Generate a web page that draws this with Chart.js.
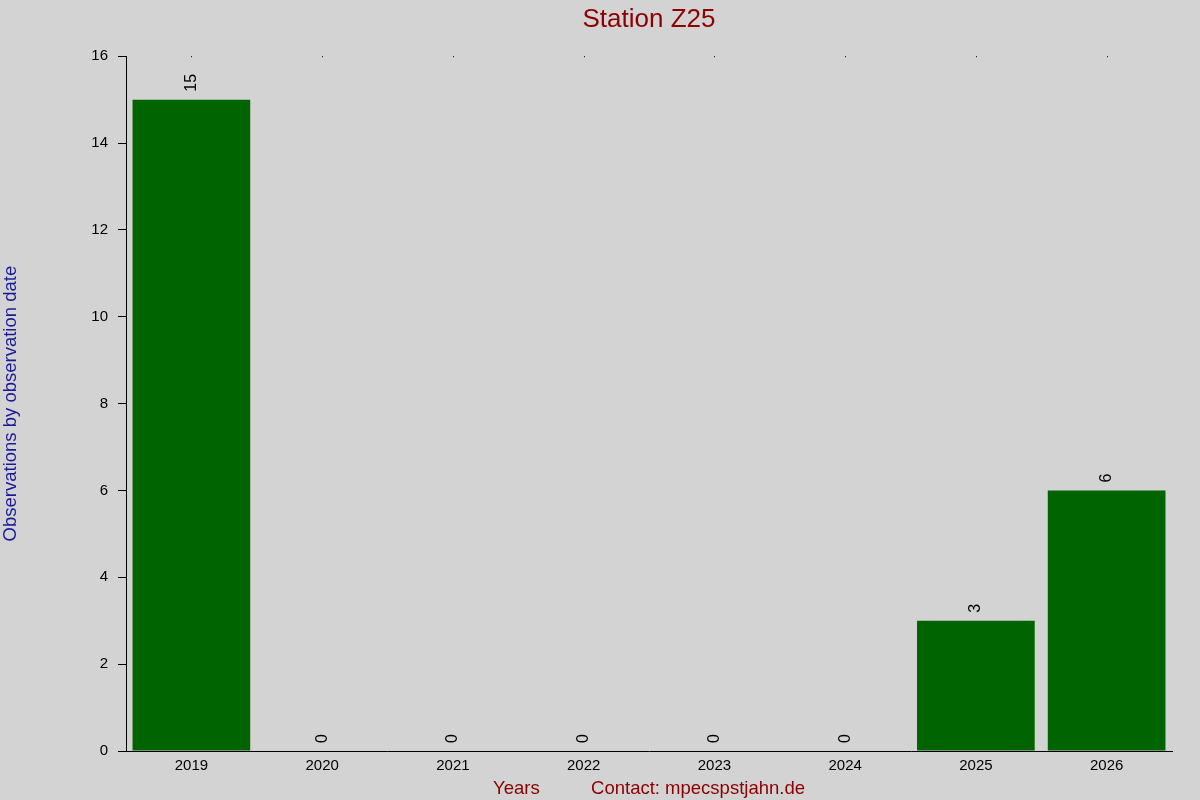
<!DOCTYPE html>
<html lang="en">
<head>
    <meta charset="UTF-8">
    <title>Station Z25</title>
    <script src="https://cdn.jsdelivr.net/npm/chart.js@4"></script>
    <style>
        * {
            margin: 0;
            padding: 0;
        }

        body {
            background-color: #d3d3d3;
        }

        #chartBox {
            width: 1200px;
            height: 800px;
        }
    </style>
</head>

<body>
    <div id="chartBox">
        <canvas id="chartCanvas" width="1200" height="800"></canvas>
    </div>
    <script>
        // values
        const years = ['2019', '2020', '2021', '2022', '2023', '2024', '2025', '2026']
        const observations = [15, 0, 0, 0, 0, 0, 3, 6]
        const yTicks = [0, 2, 4, 6, 8, 10, 12, 14, 16]

        const titleText = 'Station Z25'
        const xTitleText = 'Years          Contact: mpecspstjahn.de'
        const yTitleText = 'Observations by observation date'

        const fontName = "'Liberation Sans', Arial, sans-serif"

        // background + value labels above the bars
        const labelPlugin = {
            id: 'barLabels',
            beforeDraw(chart) {
                const ctx = chart.ctx
                ctx.save()
                ctx.fillStyle = '#d3d3d3'
                ctx.fillRect(0, 0, chart.width, chart.height)
                ctx.restore()
            },
            afterDatasetsDraw(chart) {
                const ctx = chart.ctx
                const meta = chart.getDatasetMeta(0)
                ctx.save()
                ctx.fillStyle = '#000000'
                ctx.font = '16px ' + fontName
                ctx.textAlign = 'left'
                ctx.textBaseline = 'middle'
                meta.data.forEach(function (bar, i) {
                    ctx.save()
                    ctx.translate(bar.x, bar.y - 8)
                    ctx.rotate(-Math.PI / 2)
                    ctx.fillText(String(observations[i]), 0, 0)
                    ctx.restore()
                })
                // small dots on top edge, one per category
                const xs = chart.scales.x
                years.forEach(function (y, i) {
                    ctx.fillRect(Math.round(xs.getPixelForTick(i)), chart.chartArea.top, 1, 1)
                })
                ctx.restore()
            }
        }

        new Chart(document.getElementById('chartCanvas'), {
            type: 'bar',
            data: {
                labels: years,
                datasets: [{
                    data: observations,
                    backgroundColor: '#006400',
                    borderWidth: 0,
                    barPercentage: 0.9,
                    categoryPercentage: 1.0
                }]
            },
            options: {
                responsive: false,
                animation: false,
                devicePixelRatio: 1,
                layout: {
                    padding: { left: 0, right: 28, top: 0, bottom: 0 }
                },
                plugins: {
                    legend: { display: false },
                    tooltip: { enabled: false },
                    title: {
                        display: true,
                        fullSize: false,
                        text: titleText,
                        color: '#8b0000',
                        font: { family: fontName, size: 26, weight: 'normal' },
                        padding: { top: 4, bottom: 21 }
                    }
                },
                scales: {
                    x: {
                        grid: { display: false, drawTicks: false },
                        border: { display: true, color: '#000000', width: 1 },
                        ticks: {
                            color: '#000000',
                            font: { family: fontName, size: 15 },
                            padding: 6,
                            maxRotation: 0
                        },
                        title: {
                            display: true,
                            text: xTitleText,
                            color: '#8b0000',
                            font: { family: fontName, size: 18.5 },
                            padding: { top: 4, bottom: 0 }
                        },
                        afterFit(scale) {
                            scale.height = 49
                        }
                    },
                    y: {
                        min: 0,
                        max: 16,
                        afterBuildTicks(scale) {
                            scale.ticks = yTicks.map(function (v) { return { value: v } })
                        },
                        grid: {
                            drawOnChartArea: false,
                            drawTicks: true,
                            tickLength: 8,
                            color: '#000000'
                        },
                        border: { display: true, color: '#000000', width: 1 },
                        ticks: {
                            color: '#000000',
                            font: { family: fontName, size: 15 },
                            padding: 10
                        },
                        title: {
                            display: true,
                            text: yTitleText,
                            color: '#1a1a9a',
                            font: { family: fontName, size: 18.5 },
                            padding: { top: 0, bottom: 0 }
                        },
                        afterFit(scale) {
                            scale.width = 126
                        }
                    }
                }
            },
            plugins: [labelPlugin]
        })
    </script>
</body>
</html>
